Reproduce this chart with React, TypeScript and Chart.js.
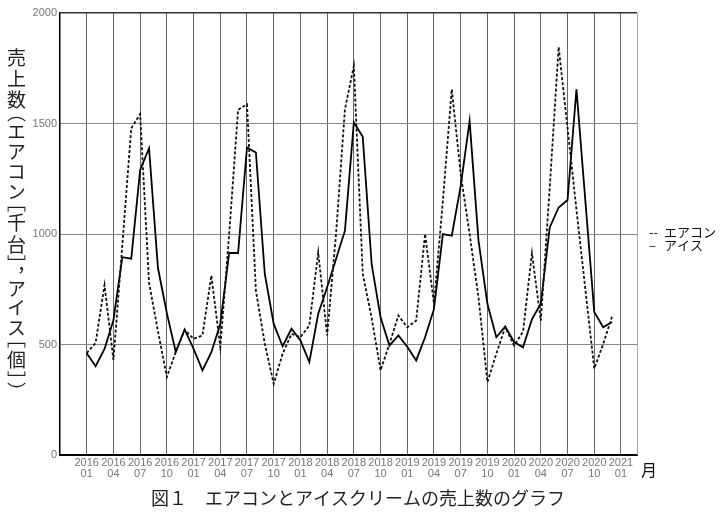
import React, { useEffect, useRef } from "react";
import { Chart, registerables } from "chart.js";

Chart.register(...registerables);

// monthly sales, Jan 2016 - Dec 2020
const months = [
  "2016-01", "2016-02", "2016-03", "2016-04", "2016-05", "2016-06", "2016-07", "2016-08", "2016-09", "2016-10", "2016-11", "2016-12",
  "2017-01", "2017-02", "2017-03", "2017-04", "2017-05", "2017-06", "2017-07", "2017-08", "2017-09", "2017-10", "2017-11", "2017-12",
  "2018-01", "2018-02", "2018-03", "2018-04", "2018-05", "2018-06", "2018-07", "2018-08", "2018-09", "2018-10", "2018-11", "2018-12",
  "2019-01", "2019-02", "2019-03", "2019-04", "2019-05", "2019-06", "2019-07", "2019-08", "2019-09", "2019-10", "2019-11", "2019-12",
  "2020-01", "2020-02", "2020-03", "2020-04", "2020-05", "2020-06", "2020-07", "2020-08", "2020-09", "2020-10", "2020-11", "2020-12",
];

// エアコン (千台)
const aircon = [
  461, 507, 769, 430, 950, 1478, 1543, 780, 560, 353, 466, 566,
  526, 541, 812, 488, 1000, 1562, 1587, 744, 503, 322, 458, 548,
  533, 586, 917, 541, 1000, 1565, 1760, 820, 620, 383, 503, 631,
  578, 608, 1000, 684, 1150, 1655, 1271, 1000, 714, 330, 458, 578,
  496, 558, 912, 608, 1210, 1846, 1480, 1110, 750, 391, 502, 627,
];

// アイス (個)
const ice = [
  460, 402, 480, 610, 895, 888, 1290, 1388, 846, 642, 466, 568,
  480, 383, 465, 593, 914, 914, 1392, 1369, 819, 593, 492, 571,
  518, 420, 639, 759, 887, 1015, 1505, 1440, 864, 623, 495, 541,
  490, 428, 533, 661, 1000, 992, 1218, 1512, 970, 684, 533, 581,
  511, 487, 614, 686, 1030, 1120, 1154, 1655, 1150, 647, 578, 602,
];

const tickMonths = [
  "2016-01", "2016-04", "2016-07", "2016-10",
  "2017-01", "2017-04", "2017-07", "2017-10",
  "2018-01", "2018-04", "2018-07", "2018-10",
  "2019-01", "2019-04", "2019-07", "2019-10",
  "2020-01", "2020-04", "2020-07", "2020-10",
  "2021-01",
];

const monthIndex = (m: string) => {
  const [y, mo] = m.split("-").map(Number);
  return (y - 2016) * 12 + (mo - 1);
};

const jp = '"Noto Sans CJK JP", sans-serif';

const extraText = {
  id: "extraText",
  afterDraw(chart: any) {
    const { ctx, chartArea, scales } = chart;
    ctx.save();
    // right frame
    ctx.strokeStyle = "#aaa";
    ctx.lineWidth = 1;
    ctx.beginPath();
    ctx.moveTo(chartArea.right + 0.5, chartArea.top);
    ctx.lineTo(chartArea.right + 0.5, chartArea.bottom);
    ctx.stroke();

    ctx.fillStyle = "#111";
    ctx.textBaseline = "middle";
    ctx.textAlign = "left";
    ctx.font = `13px ${jp}`;
    const y1 = scales.y.getPixelForValue(1000);
    ctx.fillText("--", chartArea.right + 12, y1 - 2);
    ctx.fillText("エアコン", chartArea.right + 27, y1 - 2);
    ctx.fillText("–", chartArea.right + 12, y1 + 11);
    ctx.fillText("アイス", chartArea.right + 27, y1 + 11);

    ctx.font = `16px ${jp}`;
    ctx.textAlign = "center";
    ctx.fillText("月", chartArea.right + 12, chartArea.bottom + 15);

    ctx.font = `18px ${jp}`;
    ctx.fillStyle = "#222";
    ctx.fillText("図１　エアコンとアイスクリームの売上数のグラフ", 358, 498);
    ctx.restore();
  },
};

const App: React.FC = () => {
  const chartRef = useRef<HTMLCanvasElement | null>(null);

  useEffect(() => {
    if (!chartRef.current) return;
    const chart = new Chart(chartRef.current, {
      type: "line",
      data: {
        datasets: [
          {
            label: "エアコン",
            data: aircon.map((v, i) => ({ x: monthIndex(months[i]), y: v })),
            borderColor: "#111",
            borderWidth: 1.8,
            borderDash: [3, 2],
            pointRadius: 0,
            tension: 0,
          },
          {
            label: "アイス",
            data: ice.map((v, i) => ({ x: monthIndex(months[i]), y: v })),
            borderColor: "#000",
            borderWidth: 1.8,
            pointRadius: 0,
            tension: 0,
          },
        ],
      },
      options: {
        animation: false,
        responsive: true,
        maintainAspectRatio: false,
        layout: { padding: { left: 0, right: 90, top: 13, bottom: 0 } },
        plugins: {
          legend: { display: false },
          tooltip: { enabled: false },
        },
        scales: {
          x: {
            type: "linear",
            min: -3,
            max: 61.8,
            afterBuildTicks: (axis: any) => {
              axis.ticks = tickMonths.map((m) => ({ value: monthIndex(m) }));
            },
            afterFit: (axis: any) => {
              axis.height = 64;
              axis.paddingLeft = 0;
              axis.paddingRight = 0;
            },
            grid: { color: "#666", lineWidth: 1, drawTicks: false },
            border: { color: "#000", width: 2 },
            ticks: {
              autoSkip: false,
              maxRotation: 0,
              minRotation: 0,
              padding: 3,
              color: "#777",
              font: { family: '"Liberation Sans", sans-serif', size: 11, lineHeight: 0.95 },
              callback: (value: any) => {
                const m = tickMonths.find((t) => monthIndex(t) === value);
                return m ? m.split("-") : "";
              },
            },
          },
          y: {
            min: 0,
            max: 2000,
            afterFit: (axis: any) => {
              axis.width = 60;
              axis.paddingTop = 0;
              axis.paddingBottom = 0;
            },
            grid: {
              color: (c: any) => (c.tick && c.tick.value === 2000 ? "#333" : "#888"),
              lineWidth: (c: any) => (c.tick && c.tick.value === 2000 ? 1.5 : 1),
              drawTicks: false,
            },
            border: { color: "#000", width: 1.5 },
            ticks: {
              stepSize: 500,
              padding: 3,
              color: "#777",
              font: { family: '"Liberation Sans", sans-serif', size: 11 },
              callback: (value: any) => String(value),
            },
          },
        },
      },
      plugins: [extraText],
    });
    return () => chart.destroy();
  }, []);

  return (
    <div style={{ position: "fixed", left: 0, top: 0, width: 727, height: 519, background: "#fff" }}>
      <canvas ref={chartRef} />
      <div
        style={{
          position: "absolute",
          left: 7,
          top: 48,
          writingMode: "vertical-rl",
          fontFamily: jp,
          fontSize: 19,
          lineHeight: 1,
          letterSpacing: 2.2,
          fontFeatureSettings: '"vpal"',
          color: "#222",
        }}
      >
        売上数（エアコン［千台］，アイス［個］）
      </div>
    </div>
  );
};

export default App;
